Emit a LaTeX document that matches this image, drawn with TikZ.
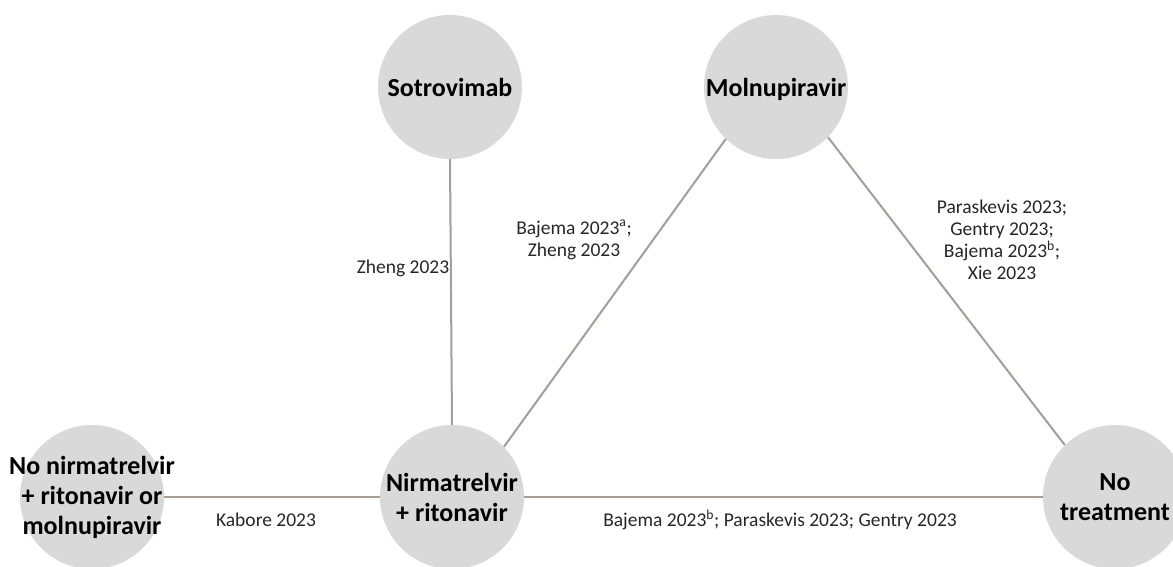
\documentclass[tikz,border=0pt]{standalone}
\usepackage{fontspec}
\setmainfont{Carlito}
\definecolor{bubblefill}{RGB}{217,217,217}
\definecolor{edgecol}{RGB}{166,157,148}
\definecolor{citecol}{RGB}{38,38,38}
\tikzset{
  bubble/.style={circle, fill=bubblefill, draw=none, minimum size=144pt, inner sep=0pt},
  bubbletext/.style={font=\fontsize{26}{30}\selectfont\bfseries, align=center, text=black, inner sep=0pt},
  cite/.style={font=\fontsize{19.5}{22}\selectfont, align=center, text=citecol, inner sep=0pt},
  edge/.style={draw=edgecol, line width=2pt}
}
\begin{document}
\begin{tikzpicture}[x=1pt,y=-1pt]
\useasboundingbox (0,0) rectangle (1173,566);
% circles
\node[bubble] (sot) at (450,87) {};
\node[bubble] (mol) at (776,87) {};
\node[bubble] (non) at (92,497) {};
\node[bubble] (nir) at (452,497) {};
\node[bubble] (not) at (1115,497) {};
% connectors
\draw[edge] (sot.south) -- (nir.north);
\draw[edge] (mol.226) -- (nir.44);
\draw[edge] (mol.-44) -- (not.134);
\draw[edge] (non.east) -- (nir.west);
\draw[edge] (nir.east) -- (not.west);
% labels
\node[bubbletext, text depth=0pt] (sotl) at (sot) {Sotrovimab};
\node[bubbletext, text depth=0pt] (moll) at (mol) {Molnupiravir};
\node[bubbletext] (nonl) at (non) {No nirmatrelvir\\+ ritonavir or\\molnupiravir};
\node[bubbletext] (nirl) at (nir) {Nirmatrelvir\\+ ritonavir};
\node[bubbletext] (notl) at (not) {No\\treatment};
% citations
\node[cite] (c1) at (403,268) {Zheng 2023};
\node[cite] (c2) at (574,240) {Bajema 2023\textsuperscript{a};\\Zheng 2023};
\node[cite] (c3) at (1002,240) {Paraskevis 2023;\\Gentry 2023;\\Bajema 2023\textsuperscript{b};\\Xie 2023};
\node[cite] (c4) at (266,520) {Kabore 2023};
\node[cite] (c5) at (780,520) {Bajema 2023\textsuperscript{b}; Paraskevis 2023; Gentry 2023};
\end{tikzpicture}
\end{document}
